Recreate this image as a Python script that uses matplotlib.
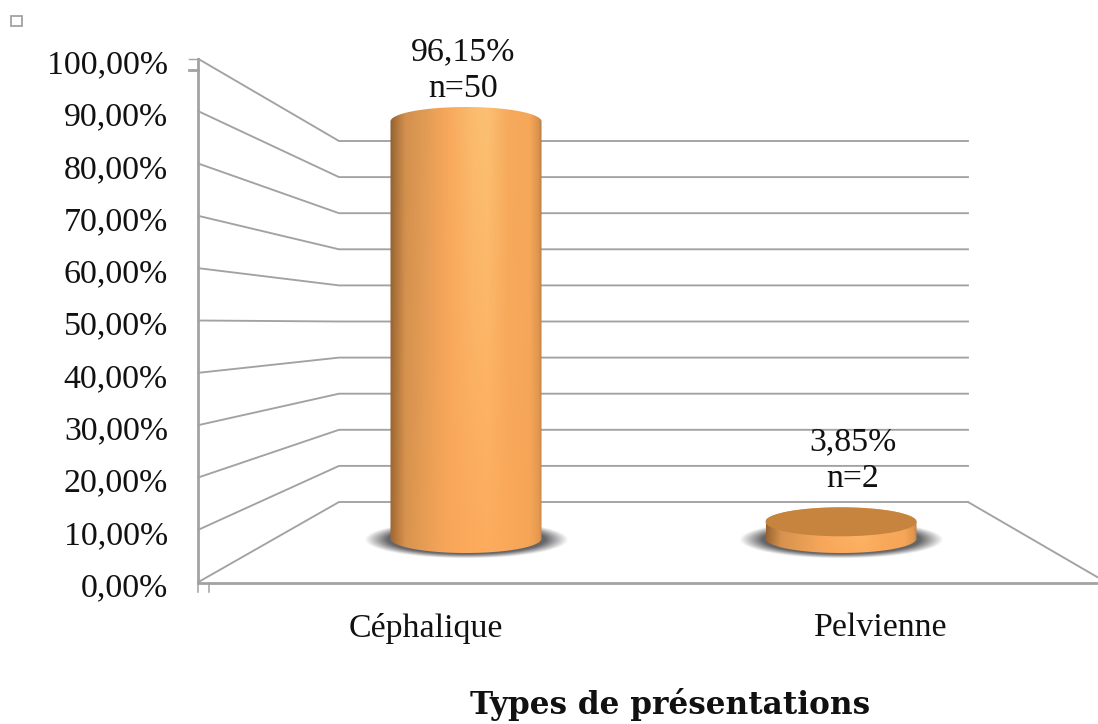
import numpy as np
import matplotlib
matplotlib.use("Agg")
import matplotlib.pyplot as plt
from matplotlib.path import Path
from matplotlib.patches import PathPatch, Ellipse, Rectangle

# ---- data ----
categories = ["Céphalique", "Pelvienne"]
percentages = [96.15, 3.85]
counts = [50, 2]
percent_labels = ["96,15%", "3,85%"]
count_labels = ["n=50", "n=2"]
tick_values = [0, 10, 20, 30, 40, 50, 60, 70, 80, 90, 100]
tick_labels = ["0,00%", "10,00%", "20,00%", "30,00%", "40,00%", "50,00%",
               "60,00%", "70,00%", "80,00%", "90,00%", "100,00%"]
x_title = "Types de présentations"

# ---- figure geometry (pixels of the output image) ----
W, H = 1098, 724
BASE_PX, PX_PER_PCT = 538.5, 4.337     # bar scale: value -> image row
CAT0_PX, CAT_STEP_PX = 466.0, 375.0    # bar scale: category index -> image col
FONT = "Liberation Serif"
GRID = "#a2a2a2"

fig = plt.figure(figsize=(W / 100, H / 100), dpi=100, facecolor="white")
ax = fig.add_axes([0, 0, 1, 1])
ax.set_axis_off()


def X(px):
    return (np.asarray(px, float) - CAT0_PX) / CAT_STEP_PX


def Y(py):
    return (BASE_PX - np.asarray(py, float)) / PX_PER_PCT


ax.set_xlim(X(0), X(W))
ax.set_ylim(Y(H), Y(0))


def front_y(v):
    return Y(582 - 5.23 * np.asarray(v, float))


def back_y(v):
    return Y(502 - 3.61 * np.asarray(v, float))


FX, BX, RX = X(198.5), X(339), X(968)

# ---- walls and gridlines ----
for v in tick_values:
    ax.plot([FX, BX, RX], [front_y(v), back_y(v), back_y(v)], color=GRID, lw=1.35,
            solid_joinstyle="miter", zorder=1)
ax.plot([FX, FX], [front_y(0), front_y(100)], color=GRID, lw=2.0, zorder=1.5)
ax.plot([FX, X(W)], [Y(582.5), Y(582.5)], color=GRID, lw=2.0, zorder=1.5)
ax.plot([RX, X(W)], [back_y(0), Y(577.5)], color=GRID, lw=1.35, zorder=1)
ax.plot([X(189), FX], [Y(59), Y(59)], color=GRID, lw=1.0, zorder=1)
ax.plot([X(189), FX], [Y(70), Y(70)], color=GRID, lw=2.0, zorder=1)
for px in (198.5, 209):
    ax.plot([X(px), X(px)], [Y(583), Y(592)], color=GRID, lw=1.1, zorder=1)

# small stray square top-left
ax.add_patch(Rectangle((X(11), Y(26)), X(22) - X(11), Y(16) - Y(26), fill=False,
                       ec="#a2a2a2", lw=1.3))


# ---- cylinder helpers ----
def soft_shadow(cx):
    nx, ny = 260, 70
    xs = np.linspace(-1.25, 1.25, nx)
    ys = np.linspace(-1.25, 1.25, ny)
    gx, gy = np.meshgrid(xs, ys)
    r = np.sqrt(gx ** 2 + gy ** 2)
    alpha = np.clip((1.06 - r) / 0.24, 0, 1) * 0.92
    img = np.zeros((ny, nx, 4))
    img[..., :3] = np.array([0x58, 0x58, 0x5c]) / 255
    img[..., 3] = alpha
    hw, hh = 96 * 1.25 / CAT_STEP_PX, 18 * 1.25 / PX_PER_PCT
    cy = Y(539.5)
    ax.imshow(img, extent=(cx - hw, cx + hw, cy - hh, cy + hh), aspect="auto",
              origin="lower", zorder=2, interpolation="bilinear")


def cylinder_path(cx, top, hw, hh_top, hh_bot):
    t = np.linspace(0, np.pi, 80)
    upper = np.column_stack([cx + hw * np.cos(t), top + hh_top * np.sin(t)])
    lower = np.column_stack([cx - hw * np.cos(t), 0 - hh_bot * np.sin(t)])
    pts = np.vstack([upper, lower, upper[:1]])
    return Path(pts, closed=True)


stops = np.array([0.0, 0.03, 0.10, 0.24, 0.38, 0.55, 0.64, 0.78, 0.92, 0.98, 1.0])
col_top = np.array([
    [0x8e, 0x5e, 0x30], [0xa6, 0x70, 0x3a], [0xd2, 0x90, 0x4e], [0xe2, 0x9c, 0x55],
    [0xf8, 0xa8, 0x5b], [0xfb, 0xbc, 0x6e], [0xfc, 0xc0, 0x72], [0xf6, 0xaa, 0x5c],
    [0xf6, 0xa8, 0x5a], [0xd8, 0x92, 0x4e], [0xb0, 0x78, 0x42]], float) / 255
col_bot = np.array([
    [0x9c, 0x66, 0x34], [0xb0, 0x74, 0x3a], [0xd8, 0x93, 0x4e], [0xe9, 0x9e, 0x55],
    [0xf8, 0xa7, 0x5a], [0xfc, 0xaa, 0x5c], [0xfd, 0xac, 0x5d], [0xfa, 0xa8, 0x59],
    [0xf6, 0xa5, 0x57], [0xe6, 0x9a, 0x50], [0xcc, 0x88, 0x48]], float) / 255


def gradient_image(ny=80, nx=300):
    u = np.linspace(0, 1, nx)
    top = np.column_stack([np.interp(u, stops, col_top[:, i]) for i in range(3)])
    bot = np.column_stack([np.interp(u, stops, col_bot[:, i]) for i in range(3)])
    w = np.linspace(0, 1, ny)[:, None, None]
    return bot[None, :, :] * (1 - w) + top[None, :, :] * w


HW = 75.5 / CAT_STEP_PX
HH_TOP = 14.5 / PX_PER_PCT
HH_BOT = 14.5 / PX_PER_PCT

for i, v in enumerate(percentages):
    soft_shadow(i)
    path = cylinder_path(i, v, HW, HH_TOP, HH_BOT)
    clip = PathPatch(path, transform=ax.transData, fc="none", ec="none")
    ax.add_patch(clip)
    im = ax.imshow(gradient_image(), origin="lower", aspect="auto", zorder=3,
                   extent=(i - HW, i + HW, -HH_BOT, v + HH_TOP),
                   interpolation="bilinear")
    im.set_clip_path(clip)
    if v < 20:  # short cylinder: the cap is visible as a flat darker face
        ax.add_patch(Ellipse((i, v), 2 * HW, 2 * HH_TOP, fc="#c7843f", ec="none", zorder=4))

ax.set_xlim(X(0), X(W))
ax.set_ylim(Y(H), Y(0))

# ---- texts ----
FS = 24.4
for v, lab in zip(tick_values, tick_labels):
    ax.text(X(168), front_y(v) + Y(2.5) - Y(0), lab, ha="right", va="center_baseline",
            family=FONT, fontsize=FS, color="#111111")

label_px = [(463, 48.5, 85.5), (853, 438.5, 475.5)]
for (lx, ly1, ly2), p, c in zip(label_px, percent_labels, count_labels):
    ax.text(X(lx), Y(ly1), p, ha="center", va="center_baseline", family=FONT, fontsize=FS, color="#111111")
    ax.text(X(lx), Y(ly2), c, ha="center", va="center_baseline", family=FONT, fontsize=FS, color="#111111")

for cat, lx in zip(categories, (426, 881)):
    ax.text(X(lx), Y(624.5), cat, ha="center", va="center_baseline", family=FONT, fontsize=FS,
            color="#111111")

ax.text(X(670.5), Y(714), x_title, ha="center", va="baseline", family="DejaVu Serif", fontsize=22.4,
        fontweight="bold", color="#111111")

fig.savefig("out.png", dpi=100, facecolor="white")
